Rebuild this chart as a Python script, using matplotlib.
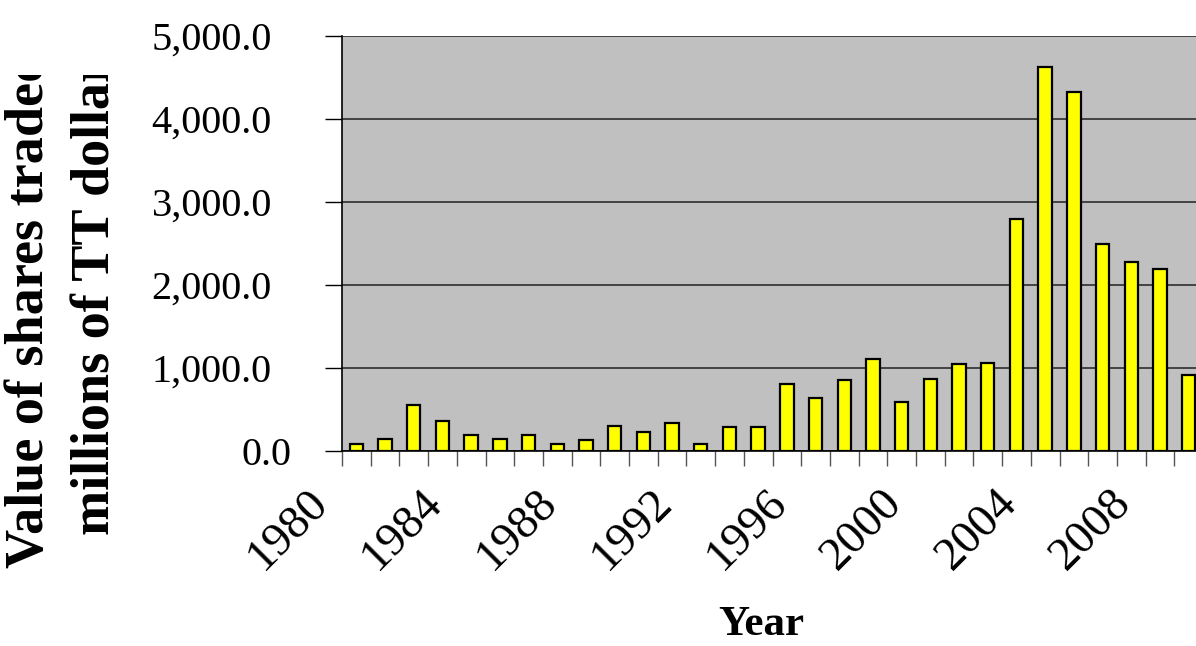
import matplotlib
matplotlib.use("Agg")
import matplotlib.pyplot as plt
from matplotlib.transforms import Bbox, ScaledTranslation

years = list(range(1980, 2010))
values = [80, 150, 555, 364, 190, 150, 190, 80, 130, 300,
          230, 340, 80, 290, 290, 813, 640, 855, 1113, 595,
          867, 1043, 1060, 2790, 4625, 4330, 2490, 2280, 2193, 915]
label_years = [1980, 1984, 1988, 1992, 1996, 2000, 2004, 2008]
yticks = [0, 1000, 2000, 3000, 4000, 5000]
ylabel_lines = ["Value of shares traded", "millions of TT dollars"]
xlabel = "Year"

W, H = 1196, 646
fig = plt.figure(figsize=(W / 100, H / 100), dpi=100)
fig.patch.set_facecolor("white")

left, top, bottom, width = 342, 36, 451, 861
ax = fig.add_axes([left / W, (H - bottom) / H, width / W, (bottom - top) / H])
ax.set_facecolor("#C0C0C0")

ax.bar(years, values, width=0.47, color="#FFFF00", edgecolor="black",
       linewidth=1.6, zorder=3)

ax.set_xlim(years[0] - 0.5, years[-1] + 0.5)
ax.set_ylim(0, 5000)

ax.set_yticks(yticks)
ax.set_yticklabels([f"{v:,.1f}" for v in yticks],
                   fontfamily="Liberation Serif", fontsize=29)
ax.tick_params(axis="y", direction="out", length=12.5, width=1,
               color="black", pad=38)
ax.yaxis.grid(True, color="#222222", linewidth=1.1, zorder=1)
ax.set_axisbelow(True)

ax.set_xticks([y - 0.5 for y in years] + [years[-1] + 0.5])
ax.set_xticklabels([])
ax.tick_params(axis="x", direction="out", length=10.5, width=1,
               color="#555555")

# the "0.0" label sits a little further right in the reference
zero_lbl = ax.yaxis.get_major_ticks()[0].label1
zero_lbl.set_transform(zero_lbl.get_transform() +
                       ScaledTranslation(0.2, 0, fig.dpi_scale_trans))

for y in label_years:
    ax.annotate(str(y), xy=(y, 0), xycoords=("data", "axes fraction"),
                xytext=(-27, -53), textcoords="offset pixels",
                rotation=45, rotation_mode="anchor", ha="right",
                va="baseline", fontfamily="Liberation Serif", fontsize=34,
                annotation_clip=False)

for s in ["top", "right"]:
    ax.spines[s].set_visible(False)
ax.spines["left"].set_color("black")
ax.spines["bottom"].set_color("black")
ax.spines["left"].set_linewidth(1.2)
ax.spines["bottom"].set_linewidth(1.2)

# clipped y-axis title (two lines)
clip = Bbox.from_extents(0, 0, W, H - 75)
starts = [(30, 568), (97, 535)]
for (cx, sy), line in zip(starts, ylabel_lines):
    t = fig.text(cx / W, (H - sy) / H, line, rotation=90, ha="center",
                 va="bottom", fontfamily="Liberation Serif",
                 fontweight="bold", fontsize=39)
    t.set_clip_box(clip)
    t.set_clip_on(True)

fig.text(761 / W, 2 / H, xlabel, ha="center", va="bottom",
         fontfamily="Liberation Serif", fontweight="bold", fontsize=31)

fig.savefig("out.png", dpi=100)
